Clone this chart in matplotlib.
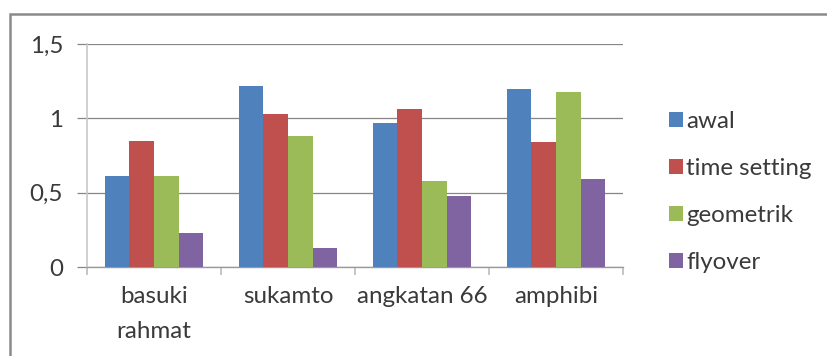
import matplotlib
matplotlib.use("Agg")
import matplotlib.pyplot as plt
import numpy as np
from matplotlib.patches import Rectangle

categories = ["basuki\nrahmat", "sukamto", "angkatan 66", "amphibi"]
series_names = ["awal", "time setting", "geometrik", "flyover"]
awal = [0.61, 1.22, 0.97, 1.20]
time_setting = [0.85, 1.03, 1.06, 0.84]
geometrik = [0.61, 0.88, 0.58, 1.18]
flyover = [0.23, 0.13, 0.48, 0.59]
y_ticks = [0, 0.5, 1, 1.5]
y_tick_labels = ["0", "0,5", "1", "1,5"]

colors = ["#4F81BD", "#C0504D", "#9BBB59", "#8064A2"]
series = [awal, time_setting, geometrik, flyover]

plt.rcParams["font.family"] = ["Lato", "DejaVu Sans"]
text_color = "#3a3a3a"
fs = 17.4

W, H = 827, 356
fig = plt.figure(figsize=(W / 100, H / 100), dpi=100)

# outer chart border
fig.patches.append(Rectangle((10 / W, -0.1), 2, 1.1 - 14 / H, transform=fig.transFigure,
                             fill=False, edgecolor="#8a8a8a", linewidth=1.8))

ax = fig.add_axes([87 / W, 1 - 267 / H, 536 / W, 223 / H])

x = np.arange(len(categories))
bw = 0.183
for i, (vals, c, name) in enumerate(zip(series, colors, series_names)):
    ax.bar(x + (i - 1.5) * bw, vals, width=bw, color=c, label=name, zorder=3)

ax.set_xlim(-0.5, len(categories) - 0.5)
ax.set_ylim(0, 1.5)
ax.set_yticks(y_ticks)
ax.set_yticklabels(y_tick_labels)
ax.yaxis.grid(True, color="#868686", linewidth=0.9, zorder=0)

for s in ["top", "right"]:
    ax.spines[s].set_visible(False)
ax.spines["left"].set_color("#c8c8c8")
ax.spines["left"].set_linewidth(1.2)
ax.spines["bottom"].set_color("#9a9a9a")
ax.spines["bottom"].set_linewidth(1.0)

ax.tick_params(axis="y", length=7.2, color="#868686", width=0.9, pad=10,
               labelsize=fs, labelcolor=text_color)
# category boundary ticks
ax.set_xticks(np.arange(-0.5, len(categories) + 0.5, 1))
ax.set_xticklabels([])
ax.set_xticks(x, minor=True)
ax.set_xticklabels(categories, minor=True, fontsize=fs, color=text_color,
                   linespacing=1.8)
ax.tick_params(axis="x", which="major", length=5.5, color="#bcbcbc", width=1.2)
ax.tick_params(axis="x", which="minor", length=0, pad=14)

leg = fig.legend(loc="upper left", bbox_to_anchor=(659 / W, 1 - 101 / H),
                 frameon=False, fontsize=fs, handlelength=0.58, handleheight=0.58,
                 handletextpad=0.15, labelspacing=1.08, borderaxespad=0)
for t in leg.get_texts():
    t.set_color(text_color)

fig.savefig("out.png", dpi=100)
